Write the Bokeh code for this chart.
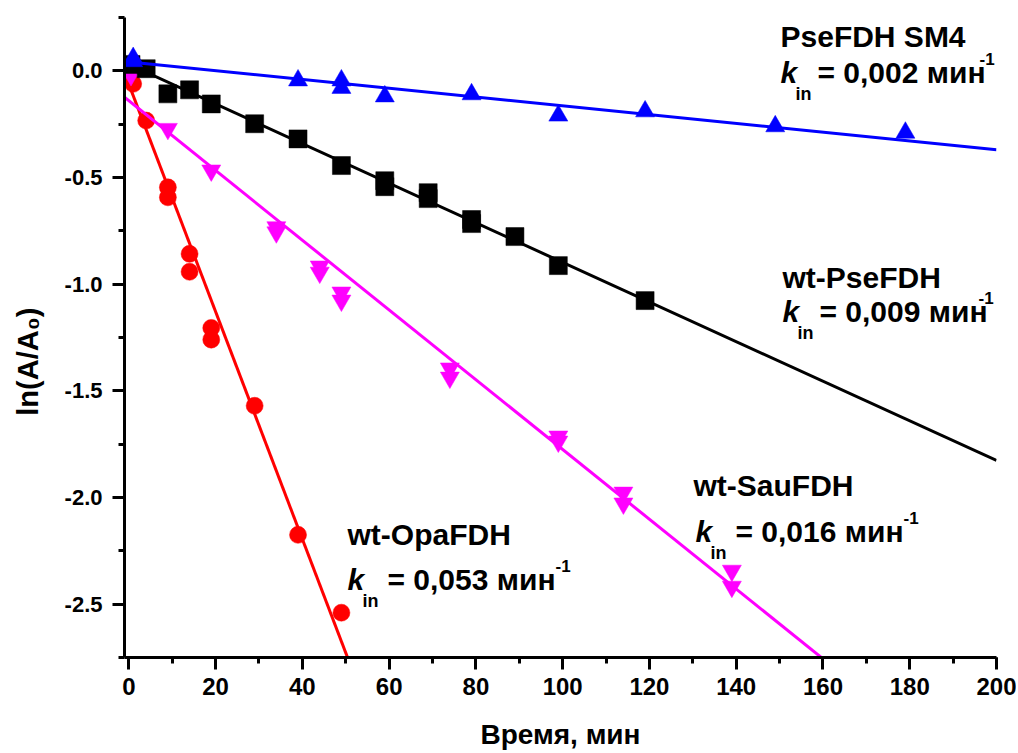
import math
from bokeh.plotting import figure
from bokeh.models import Range1d, Label, FixedTicker, NumeralTickFormatter
from bokeh.embed import file_html
from bokeh.resources import INLINE

# ---------------- data ----------------
sm4_t = [1, 1, 39, 49, 49, 59, 79, 99, 119, 149, 179]
sm4_y = [0.06, 0.045, -0.045, -0.045, -0.08, -0.12, -0.11, -0.21, -0.19, -0.26, -0.29]

pse_t = [0.5, 4, 9, 14, 19, 29, 39, 49, 59, 59, 69, 69, 79, 79, 89, 99, 119]
pse_y = [0.03, 0.01, -0.108, -0.089, -0.155, -0.248, -0.319, -0.444, -0.515, -0.543,
         -0.571, -0.599, -0.697, -0.716, -0.777, -0.913, -1.077]

sau_t = [0.5, 9, 19, 34, 34, 44, 44, 49, 49, 74, 74, 99, 99, 114, 114, 139, 139]
sau_y = [-0.02, -0.272, -0.467, -0.733, -0.757, -0.917, -0.946, -1.039, -1.077,
         -1.395, -1.438, -1.714, -1.738, -1.977, -2.028, -2.343, -2.418]

opa_t = [1, 4, 9, 9, 14, 14, 19, 19, 29, 39, 49]
opa_y = [-0.061, -0.233, -0.546, -0.593, -0.858, -0.942, -1.205, -1.26, -1.57, -2.175, -2.54]

fit_names = ["PseFDH SM4", "wt-PseFDH", "wt-SauFDH", "wt-OpaFDH"]
fit_intercept = [0.042, 0.030, -0.14, -0.063]
fit_slope = [-0.00206, -0.00928, -0.01635, -0.0533]
k_values = ["0,002", "0,009", "0,016", "0,053"]

x_ticks = [0, 20, 40, 60, 80, 100, 120, 140, 160, 180, 200]
x_minor = [0, 10, 20, 30, 40, 50, 60, 70, 80, 90, 100, 110, 120, 130, 140, 150, 160, 170, 180, 190, 200]
y_ticks = [-2.5, -2.0, -1.5, -1.0, -0.5, 0.0]
y_minor = [-2.75, -2.5, -2.25, -2.0, -1.75, -1.5, -1.25, -1.0, -0.75, -0.5, -0.25, 0.0, 0.25]

x_title = "Время, мин"
y_title = "ln(A/A\u2080)"

X0, X1 = -1, 200
Y0, Y1 = -2.75, 0.25

BLUE, BLACK, MAGENTA, RED = "#0000FF", "#000000", "#FF00FF", "#FF0000"
FONT = "Liberation Sans"

p = figure(width=1016, height=753, x_range=Range1d(X0, X1), y_range=Range1d(Y0, Y1),
           output_backend="svg", toolbar_location=None,
           min_border_left=124, min_border_right=20, min_border_top=17, min_border_bottom=96)
p.outline_line_color = None
p.xgrid.visible = False
p.ygrid.visible = False
p.background_fill_color = "white"
p.border_fill_color = "white"

for ax in (p.xaxis[0], p.yaxis[0]):
    ax.axis_line_width = 3
    ax.axis_line_color = "black"
    ax.major_tick_line_width = 3
    ax.minor_tick_line_width = 3
    ax.major_tick_in = 0
    ax.major_tick_out = 12
    ax.minor_tick_in = 0
    ax.minor_tick_out = 6
    ax.major_label_text_font = FONT
    ax.major_label_text_font_style = "bold"
    ax.major_label_text_color = "black"
    ax.axis_label_text_font = FONT
    ax.axis_label_text_font_style = "bold"
    ax.axis_label_text_color = "black"

p.xaxis.ticker = FixedTicker(ticks=x_ticks, minor_ticks=x_minor)
p.yaxis.ticker = FixedTicker(ticks=y_ticks, minor_ticks=y_minor)
p.yaxis.formatter = NumeralTickFormatter(format="0.0")
p.xaxis.major_label_text_font_size = "24px"
p.yaxis.major_label_text_font_size = "22px"
p.xaxis.major_label_standoff = 8
p.yaxis.major_label_standoff = 10

p.xaxis.axis_label = x_title
p.xaxis.axis_label_text_font_size = "28px"
p.xaxis.axis_label_standoff = 21

# trailing no-break spaces shift the centred, rotated title towards the bottom as in the original
p.yaxis.axis_label = y_title + "\u00a0" * 6
p.yaxis.axis_label_text_font_size = "29px"
p.yaxis.axis_label_standoff = 18

# ---- fit lines + points ----
series = [
    (opa_t, opa_y, RED, "circle", 3),
    (sau_t, sau_y, MAGENTA, "inverted_triangle", 2),
    (pse_t, pse_y, BLACK, "square", 1),
    (sm4_t, sm4_y, BLUE, "triangle", 0),
]
marker_size = {"circle": 17, "inverted_triangle": 19, "square": 18, "triangle": 19}
for t, y, col, mk, fi in series:
    xs = [X0, X1]
    ys = [fit_intercept[fi] + fit_slope[fi] * v for v in xs]
    p.line(xs, ys, line_color=col, line_width=3)
    p.scatter(t, y, marker=mk, size=marker_size[mk], fill_color=col, line_color=col, line_width=0.5)

# ---- helpers: reference-pixel positions -> data coords ----
FL, FR, FT, FB = 124, 996, 17, 657
def dx(px):
    return X0 + (px - FL) * (X1 - X0) / (FR - FL)
def dy(py):
    return Y1 - (py - FT) * (Y1 - Y0) / (FB - FT)

def lab(px, py, text, size, style="bold", align="left", angle=0.0):
    # py is the wanted glyph baseline; compensate the renderer's anchor offset
    p.add_layout(Label(x=dx(px), y=dy(py - 0.36 * size), text=text, text_font=FONT,
                       text_font_size=f"{size}px", text_font_style=style, text_color="black",
                       text_align=align, text_baseline="alphabetic", angle=angle))

# annotations: (name x, name baseline, k x, k baseline, eq x, sup x)
ann = [
    (780, 47, 780, 83, 817, 979),
    (782, 288, 782, 322, 819, 978),
    (693, 496, 695, 542, 735, 903),
    (347, 545, 347, 590, 387, 555),
]
for i, (nx, ny, kx, ky, ex, sx) in enumerate(ann):
    lab(nx, ny, fit_names[i], 30)
    lab(kx, ky, "k", 30, style="bold italic")
    lab(kx + 15, ky + 17, "in", 18)
    lab(ex, ky, "= " + k_values[i] + " мин", 30)
    lab(sx, ky - 18, "-1", 17)

open("out.html", "w").write(file_html(p, INLINE))
